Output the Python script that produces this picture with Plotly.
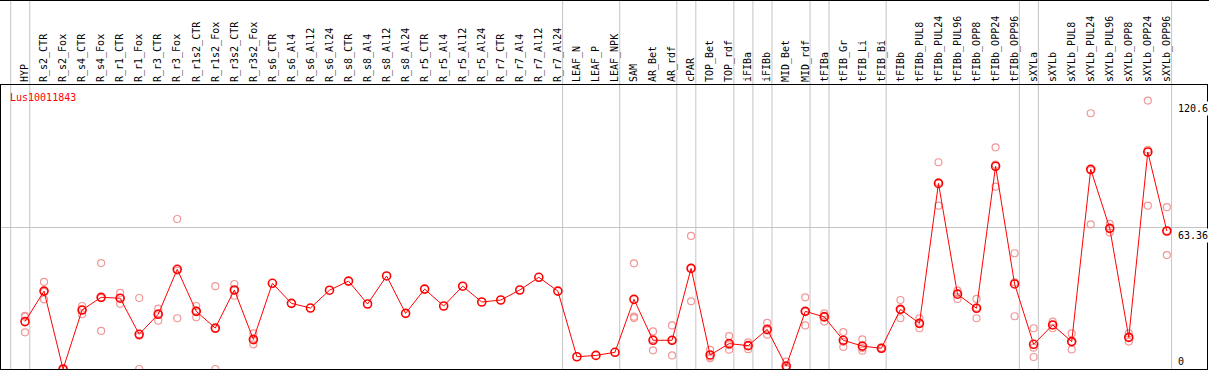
import plotly.graph_objects as go

categories = [
    "HYP", "R_s2_CTR", "R_s2_Fox", "R_s4_CTR", "R_s4_Fox", "R_r1_CTR", "R_r1_Fox",
    "R_r3_CTR", "R_r3_Fox", "R_r1s2_CTR", "R_r1s2_Fox", "R_r3s2_CTR", "R_r3s2_Fox",
    "R_s6_CTR", "R_s6_Al4", "R_s6_Al12", "R_s6_Al24", "R_s8_CTR", "R_s8_Al4",
    "R_s8_Al12", "R_s8_Al24", "R_r5_CTR", "R_r5_Al4", "R_r5_Al12", "R_r5_Al24",
    "R_r7_CTR", "R_r7_Al4", "R_r7_Al12", "R_r7_Al24", "LEAF_N", "LEAF_P", "LEAF_NPK",
    "SAM", "AR_Bet", "AR_rdf", "cPAR", "TOP_Bet", "TOP_rdf", "iFIBa", "iFIBb",
    "MID_Bet", "MID_rdf", "tFIBa", "tFIB_Gr", "tFIB_Li", "tFIB_Bi", "tFIBb",
    "tFIBb_PUL8", "tFIBb_PUL24", "tFIBb_PUL96", "tFIBb_OPP8", "tFIBb_OPP24",
    "tFIBb_OPP96", "sXYLa", "sXYLb", "sXYLb_PUL8", "sXYLb_PUL24", "sXYLb_PUL96",
    "sXYLb_OPP8", "sXYLb_OPP24", "sXYLb_OPP96",
]

mean_vals = [
    21.3, 35.0, 0.0, 26.5, 32.2, 31.8, 15.6, 24.6, 44.8, 25.9, 18.4, 35.5, 13.3,
    38.5, 29.5, 27.4, 35.4, 39.5, 29.2, 41.8, 25.0, 35.9, 28.3, 37.2, 30.1,
    31.0, 35.5, 41.2, 35.0, 5.5, 6.1, 7.5,
    31.3, 12.9, 12.9, 45.2, 6.3, 11.4, 10.5, 17.8, 1.3, 25.9, 23.4, 12.9, 10.3, 9.3,
    26.8, 20.5, 83.4, 33.6, 27.3, 91.1, 38.2, 11.1, 19.8, 12.3, 89.7, 63.2,
    14.2, 97.5, 62.0,
]

N = None
rep_a = [
    23.5, 39.1, 0.0, 28.3, 47.6, 34.2, 31.9, 27.1, 67.4, 28.3, 37.2, 38.2, 16.0,
    N, N, N, N, N, N, N, N, N, N, N, N, N, N, N, N, N, N, N,
    47.5, 16.9, 19.6, 59.8, 5.5, 14.8, 12.0, 20.7, 3.3, 32.2, 25.0, 16.6, 13.3, 9.6,
    31.0, 22.8, 92.9, 35.2, 31.5, 99.6, 52.0, 18.3, 21.3, 16.0, 114.9, 65.2,
    16.0, 120.6, 72.7,
]
rep_b = [
    16.5, 31.3, 0.0, 24.6, 17.1, 29.3, 0.0, 21.7, 22.8, 23.2, 0.0, 32.9, 11.1,
    N, N, N, N, N, N, N, N, N, N, N, N, N, N, N, N, N, N, N,
    23.5, 8.4, 6.1, 30.4, 4.8, 8.7, 8.9, 15.4, 0.5, 19.6, 21.3, 9.9, 8.2, 9.0,
    22.8, 18.3, 73.4, 31.5, 22.8, 81.9, 23.7, 5.4, 18.3, 8.8, 65.0, 61.3,
    12.3, 73.4, 51.2,
]
rep_c = [
    23.9, 34.6, 0.0, 26.6, 31.9, 31.9, 14.9, 25.0, 44.2, 26.2, 18.0, 35.4, 12.8,
    N, N, N, N, N, N, N, N, N, N, N, N, N, N, N, N, N, N, N,
    22.9, 13.4, 13.0, 45.4, 8.6, 10.7, 10.6, 17.3, 0.1, 25.9, 23.9, 12.2, 9.4, 9.3,
    26.6, 20.4, 83.9, 34.1, 27.6, 91.8, 38.9, 9.6, 19.8, 12.1, 89.2, 63.1,
    14.3, 98.5, 62.1,
]

# last category of each group (vertical separators drawn after them)
group_last = [
    "HYP", "R_r7_Al24", "LEAF_NPK", "AR_rdf", "cPAR", "TOP_rdf", "iFIBa", "iFIBb",
    "MID_rdf", "tFIBa", "tFIB_Bi", "tFIBb_OPP96", "sXYLa", "sXYLb_OPP96",
]

y_tick_vals = [0, 63.36, 120.6]
y_tick_text = ["0", "63.36", "120.6"]
grid_vals = [63.36]
gene_name = "Lus10011843"

# ---- layout geometry ----
W, H = 1209, 370
ML, MR, MT, MB = 1, 2, 85, 1
plot_w = W - ML - MR
plot_h = H - MT - MB
X_RANGE = [-1.261, 62.11]
Y_RANGE = [0, 127.6]
FONT = "DejaVu Sans Mono"


def paper_x(px):
    return (px - ML) / plot_w


def paper_y(py):
    return (H - MB - py) / plot_h


xs = list(range(len(categories)))

fig = go.Figure()

# replicate points
rx, ry = [], []
for arr in (rep_a, rep_b, rep_c):
    for i, v in enumerate(arr):
        if v is not None:
            rx.append(xs[i])
            ry.append(v)
fig.add_trace(go.Scatter(
    x=rx, y=ry, mode="markers",
    marker=dict(symbol="circle-open", size=7, color="#f09898", line=dict(width=1.2, color="#f09898")),
    showlegend=False, hoverinfo="skip",
))

# mean line
fig.add_trace(go.Scatter(
    x=xs, y=mean_vals, mode="lines+markers",
    line=dict(color="#ff0000", width=1),
    marker=dict(symbol="circle-open", size=8, color="#ff0000", line=dict(width=1.6, color="#ff0000")),
    showlegend=False,
))

shapes = []
sep_positions = [-1 + 0.25] + [categories.index(c) + 0.25 for c in group_last]
for sx in sep_positions:
    shapes.append(dict(
        type="line", xref="x", yref="paper", x0=sx, x1=sx,
        y0=paper_y(H - MB), y1=paper_y(0), layer="below",
        line=dict(color="#c4c4c4", width=1),
    ))
# top border line of the header
shapes.append(dict(
    type="line", xref="paper", yref="paper", x0=paper_x(0), x1=paper_x(W),
    y0=paper_y(0.5), y1=paper_y(0.5), line=dict(color="#000000", width=1),
))

annotations = [dict(
    text=gene_name, xref="paper", yref="paper", x=paper_x(8), y=paper_y(97),
    xanchor="left", yanchor="middle", showarrow=False,
    font=dict(family=FONT, size=10, color="#ff0000"),
)]
for v, t in zip(y_tick_vals, y_tick_text):
    annotations.append(dict(
        text=t, xref="paper", yref="y", x=paper_x(1176), y=v,
        xanchor="left", yanchor="bottom" if v == 0 else "top",
        showarrow=False, bgcolor="#ffffff", borderpad=1,
        font=dict(family=FONT, size=10, color="#000000"),
    ))

fig.update_layout(
    width=W, height=H,
    margin=dict(l=ML, r=MR, t=MT, b=MB, pad=0),
    paper_bgcolor="#ffffff", plot_bgcolor="#ffffff",
    shapes=shapes, annotations=annotations,
    xaxis=dict(
        range=X_RANGE, side="top", tickmode="array", tickvals=xs, ticktext=categories,
        tickangle=-90, ticks="", showgrid=False, zeroline=False,
        showline=True, linecolor="#000000", linewidth=1, mirror=True,
        tickfont=dict(family=FONT, size=10, color="#000000"),
    ),
    yaxis=dict(
        range=Y_RANGE, tickmode="array", tickvals=grid_vals, showticklabels=False,
        ticks="", showgrid=True, gridcolor="#c4c4c4", gridwidth=1, zeroline=False,
        showline=True, linecolor="#000000", linewidth=1, mirror=True,
    ),
)

fig.write_html(
    "out.html",
    config={"displayModeBar": False},
    post_script="document.body.style.margin='0';document.body.style.padding='0';"
                "document.documentElement.style.overflow='hidden';",
)
